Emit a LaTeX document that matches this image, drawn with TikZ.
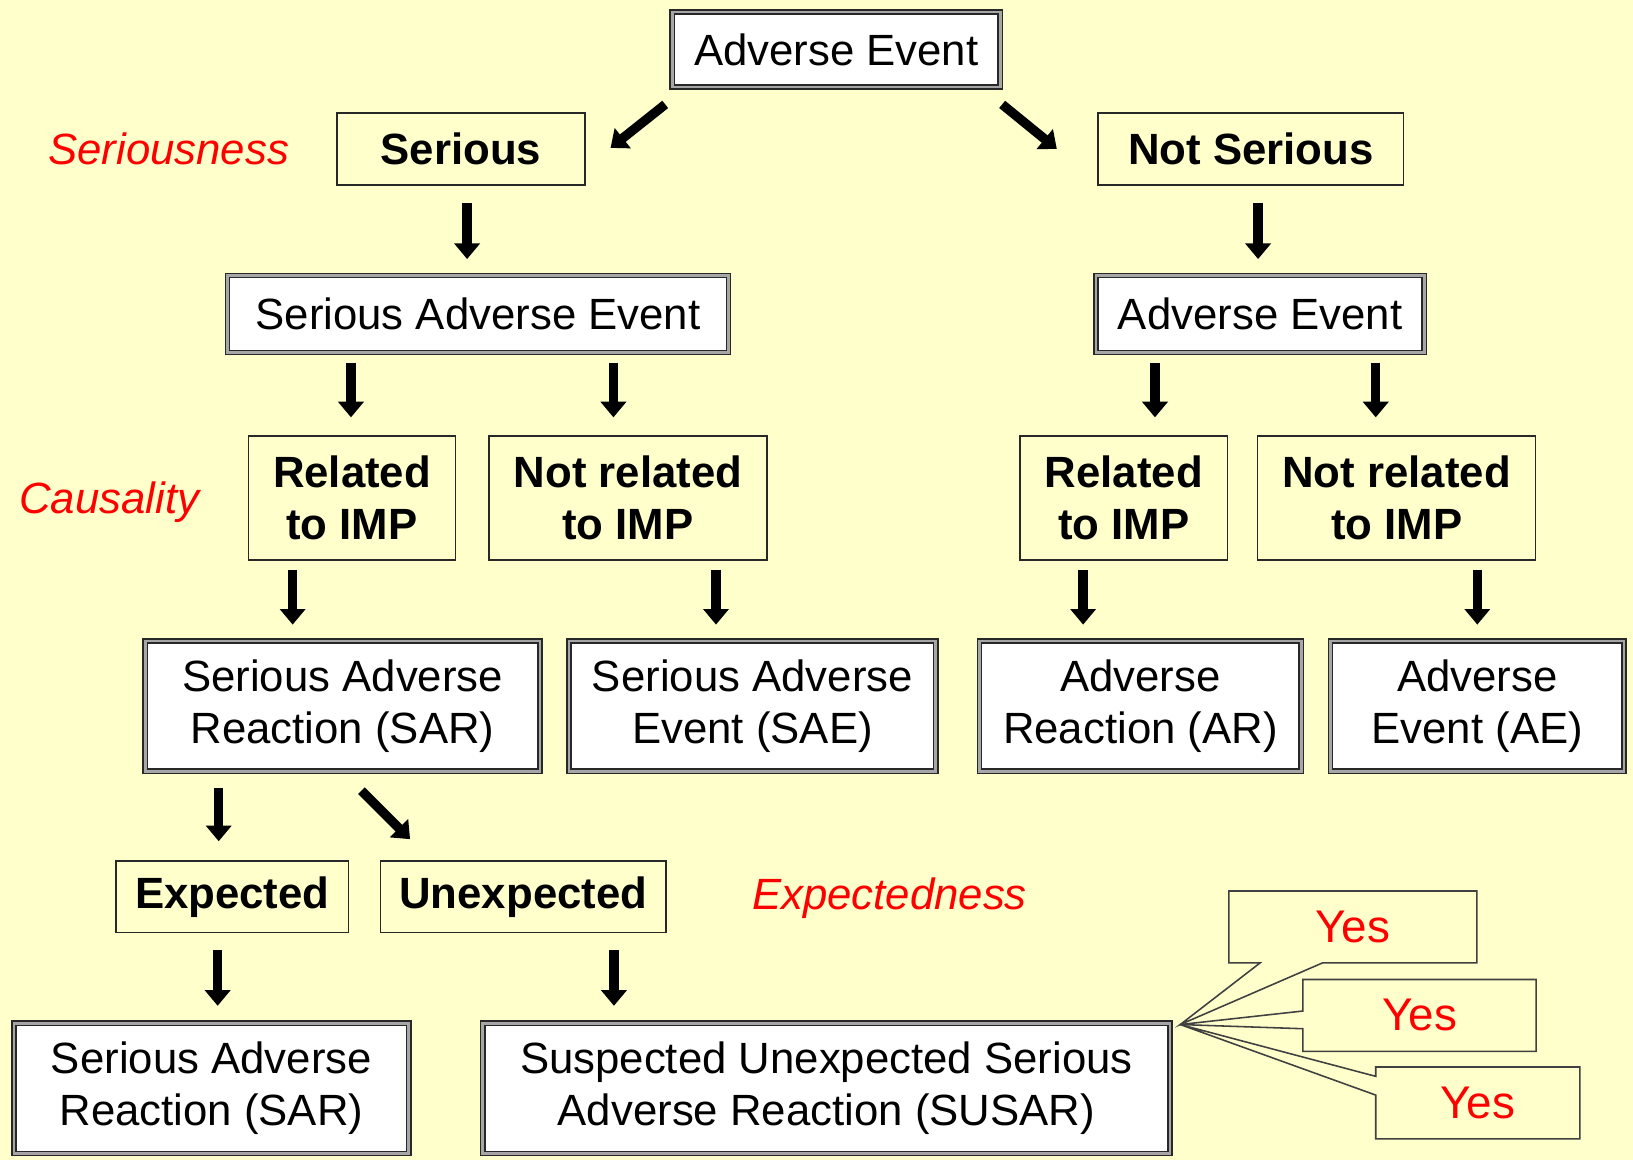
\documentclass[tikz,border=0pt]{standalone}
\usepackage{fontspec}
\setmainfont{Liberation Sans}
\usepackage{tikz}
\usetikzlibrary{arrows.meta,calc,shapes.callouts}
\definecolor{bgyellow}{RGB}{255,255,204}
\definecolor{boxline}{RGB}{40,40,40}

\begin{document}
\begin{tikzpicture}[x=1pt, y=-1pt, % pixel units, y going down
	blk/.style={line width=9pt, -{Triangle[width=24pt,length=15pt]}}, % fat arrow
	dbox/.style={draw=boxline, line width=1.5pt, double=black!35, double distance=2.5pt,
		fill=white, align=center, inner sep=0pt, font=\fontsize{42}{50}\selectfont},
	sbox/.style={draw=boxline, line width=1.5pt, align=center, inner sep=0pt,
		font=\fontsize{42}{50}\selectfont\bfseries},
	lbl/.style={text=red, font=\fontsize{42}{50}\selectfont\itshape},
	yes/.style={rectangle callout, draw=black!75, line width=1.5pt, text=red,
		minimum height=69pt, inner sep=0pt, font=\fontsize{44}{50}\selectfont}]

	\fill[bgyellow] (0,0) rectangle (1568,1114);
	\useasboundingbox (0,0) rectangle (1568,1114);

	% seriousness
	\node[dbox, minimum width=315pt, minimum height=72pt] (ae) at (803,47.5) {Adverse Event};
	\node[sbox, minimum width=238pt, minimum height=69pt] (ser) at (442.5,143) {Serious};
	\node[sbox, minimum width=293pt, minimum height=69pt] (ns) at (1201,143) {Not Serious};
	\node[dbox, minimum width=481pt, minimum height=74pt] (sae) at (459,301.5) {Serious Adverse Event};
	\node[dbox, minimum width=315pt, minimum height=74pt] (ae2) at (1210,301.5) {Adverse Event};

	% causality
	\node[sbox, minimum width=199pt, minimum height=119pt] (rel1) at (338,478) {Related\\to IMP};
	\node[sbox, minimum width=267pt, minimum height=119pt] (nrel1) at (603,478) {Not related\\to IMP};
	\node[sbox, minimum width=199pt, minimum height=119pt] (rel2) at (1079,478) {Related\\to IMP};
	\node[sbox, minimum width=267pt, minimum height=119pt] (nrel2) at (1341,478) {Not related\\to IMP};

	\node[dbox, minimum width=379pt, minimum height=125pt] (sar) at (329,678) {Serious Adverse\\Reaction (SAR)};
	\node[dbox, minimum width=352pt, minimum height=125pt] (saeb) at (722.5,678) {Serious Adverse\\Event (SAE)};
	\node[dbox, minimum width=309pt, minimum height=125pt] (ar) at (1095,678) {Adverse\\Reaction (AR)};
	\node[dbox, minimum width=282pt, minimum height=125pt] (aeb) at (1418.5,678) {Adverse\\Event (AE)};

	% expectedness
	\node[sbox, minimum width=223pt, minimum height=69pt] (exp) at (223,861) {Expected};
	\node[sbox, minimum width=274pt, minimum height=69pt] (unexp) at (502.5,861) {Unexpected};
	\node[dbox, minimum width=379pt, minimum height=125pt] (sar2) at (203,1045) {Serious Adverse\\Reaction (SAR)};
	\node[dbox, minimum width=660pt, minimum height=125pt] (susar) at (793.5,1045) {Suspected Unexpected Serious\\Adverse Reaction (SUSAR)};

	\node[lbl] (lser) at (162,143) {Seriousness};
	\node[lbl] (lcau) at (105,482) {Causality};
	\node[lbl] (lexp) at (854,862) {Expectedness};

	\draw[blk] ($(ae.south west)+(-6,16)$) -- ($(ser.east)+(24,-1)$);
	\draw[blk] ($(ae.south east)+(1,16)$) -- ($(ns.west)+(-39,0)$);
	\draw[blk] ($(ser.south)+(6,17)$) -- ($(ser.south |- sae.north)+(6,-15)$);
	\draw[blk] ($(ns.south)+(7,17)$) -- ($(ns.south |- ae2.north)+(7,-15)$);

	\draw[blk] ($(rel1.north |- sae.south)+(-1,9)$) -- ($(rel1.north)+(-1,-17)$);
	\draw[blk] ($(nrel1.north |- sae.south)+(-14,9)$) -- ($(nrel1.north)+(-14,-17)$);
	\draw[blk] ($(rel2.north |- ae2.south)+(30,9)$) -- ($(rel2.north)+(30,-17)$);
	\draw[blk] ($(nrel2.north |- ae2.south)+(-20,9)$) -- ($(nrel2.north)+(-20,-17)$);

	\draw[blk] ($(sar.north |- rel1.south)+(-48,9)$) -- ($(sar.north)+(-48,-15)$);
	\draw[blk] ($(saeb.north |- nrel1.south)+(-35,9)$) -- ($(saeb.north)+(-35,-15)$);
	\draw[blk] ($(ar.north |- rel2.south)+(-55,9)$) -- ($(ar.north)+(-55,-15)$);
	\draw[blk] ($(aeb.north |- nrel2.south)+(0,9)$) -- ($(aeb.north)+(0,-15)$);

	\draw[blk] ($(exp.north |- sar.south)+(-13,15)$) -- ($(exp.north)+(-13,-18)$);
	\draw[blk] ($(sar.south)+(18,18)$) -- ($(unexp.north west)+(29,-20)$);
	\draw[blk] ($(exp.south)+(-14,16)$) -- ($(exp.south |- sar2.north)+(-14,-16)$);
	\draw[blk] ($(unexp.south)+(87,16)$) -- ($(unexp.south |- susar.north)+(87,-16)$);

	% yes callouts
	\coordinate (tip) at ($(susar.north east)+(9,2)$);
	\node[yes, minimum width=238pt, callout absolute pointer={(tip)}, callout pointer width=60pt] (yes1) at (1299,890) {Yes};
	\node[yes, minimum width=224pt, callout absolute pointer={(tip)}, callout pointer width=17pt] (yes2) at (1363,975) {Yes};
	\node[yes, minimum width=196pt, callout absolute pointer={(tip)}, callout pointer width=18pt] (yes3) at (1419,1059) {Yes};

\end{tikzpicture}
\end{document}
